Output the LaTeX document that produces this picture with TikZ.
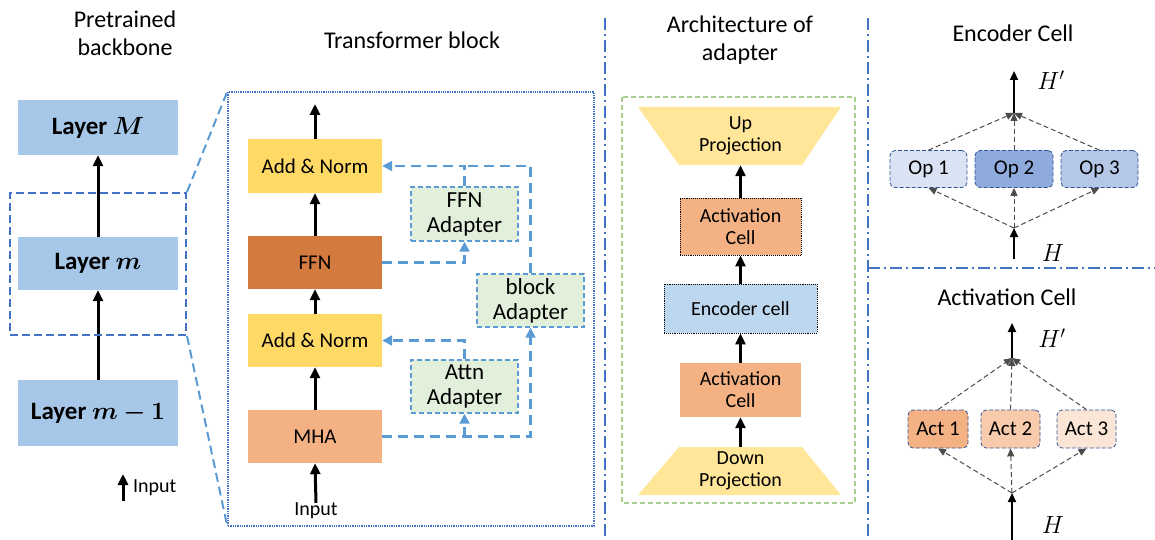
\documentclass[tikz,border=0pt]{standalone}
\usepackage{fontspec}
\setmainfont{Carlito}
\usepackage{bm}
\usetikzlibrary{arrows.meta,positioning}

\definecolor{layerblue}{RGB}{166,199,231}
\definecolor{normyellow}{RGB}{255,217,102}
\definecolor{ffnorange}{RGB}{211,123,63}
\definecolor{mhasalmon}{RGB}{244,177,131}
\definecolor{adaptgreen}{RGB}{226,239,218}
\definecolor{linkblue}{RGB}{91,155,213}
\definecolor{sepblue}{RGB}{68,114,196}
\definecolor{projyellow}{RGB}{255,230,153}
\definecolor{cellblue}{RGB}{189,215,238}
\definecolor{framegreen}{RGB}{169,209,142}
\definecolor{opone}{RGB}{218,227,243}
\definecolor{optwo}{RGB}{143,170,220}
\definecolor{opthree}{RGB}{180,199,231}
\definecolor{actone}{RGB}{244,177,131}
\definecolor{acttwo}{RGB}{248,203,173}
\definecolor{actthree}{RGB}{251,229,214}
\definecolor{opborder}{RGB}{47,85,151}

\tikzset{
  every node/.style={font=\fontsize{20}{22}\selectfont, align=center, inner sep=0pt},
  title/.style={font=\fontsize{24}{28}\selectfont},
  layer/.style={fill=layerblue, minimum width=160, font=\fontsize{25}{28}\selectfont\bfseries},
  block/.style={minimum width=134, minimum height=54, font=\fontsize{21}{23}\selectfont},
  adapter/.style={fill=adaptgreen, draw=linkblue, line width=1.4pt, dash pattern=on 5pt off 3pt, minimum width=107, minimum height=54, font=\fontsize{23}{25}\selectfont},
  cell/.style={draw=black, densely dotted, line width=0.9pt},
  choice/.style={draw=opborder, dash pattern=on 4pt off 2pt, line width=0.8pt, rounded corners=5pt, minimum height=37, font=\fontsize{21}{23}\selectfont},
  flow/.style={black, line width=3pt, -{Triangle[length=11pt,width=10pt]}},
  thinflow/.style={black, line width=2pt, -{Triangle[length=9pt,width=8pt]}},
  link/.style={linkblue, line width=2.2pt, dash pattern=on 10pt off 6pt, -{Triangle[length=10pt,width=10pt]}},
  zoomline/.style={linkblue, line width=2pt, dash pattern=on 9pt off 5pt},
  mix/.style={black!70, line width=1pt, dash pattern=on 5pt off 3pt, -{Triangle[length=8pt,width=7pt]}},
  sep/.style={sepblue, line width=2pt, dash pattern=on 12pt off 4pt on 2pt off 4pt},
  hlabel/.style={font=\fontsize{24}{26}\selectfont},
}

\begin{document}
\begin{tikzpicture}[x=1pt, y=-1pt]
  \useasboundingbox (0,0) rectangle (1155,540);

  % backbone
  \node[title] (bbtitle) at (125,33) {Pretrained\\backbone};
  \node[layer, minimum height=55] (layerM) at (98,127.5) {Layer $\bm{M}$};
  \node[layer, minimum height=53] (layerm) at (98,263.5) {Layer $\bm{m}$};
  \node[layer, minimum height=66] (layermm) at (98,413) {Layer $\bm{m-1}$};
  \draw[flow] (layermm.north) -- (layerm.south);
  \draw[flow] (layerm.north) -- (layerM.south);
  \node[draw=sepblue, line width=2pt, dash pattern=on 8pt off 4pt, minimum width=176, minimum height=142] (zoombox) at (98,264) {};
  \coordinate (inlow) at (123,501);
  \coordinate (inhigh) at (123,474);
  \draw[flow] (inlow) -- (inhigh);
  \node[anchor=west] (inlabel) at (133,488) {Input};

  % transformer block
  \node[title] (tbtitle) at (412,40) {Transformer block};
  \node[draw=sepblue, densely dotted, line width=1.3pt, minimum width=366, minimum height=434] (tblock) at (411,309) {};
  \draw[zoomline] (zoombox.north east) -- (tblock.north west);
  \draw[zoomline] (zoombox.south east) -- (tblock.south west);
  \node[block, fill=normyellow] (normtop) at (315,166) {Add \& Norm};
  \node[block, fill=ffnorange, minimum height=53] (ffn) at (315,262.5) {FFN};
  \node[block, fill=normyellow, minimum height=53] (normbot) at (315,340.5) {Add \& Norm};
  \node[block, fill=mhasalmon, minimum height=53] (mha) at (315,436.5) {MHA};
  \node (tinput) at (316,511) {Input};
  \coordinate (tout) at (315,104);
  \draw[flow] (tinput.north) -- (mha.south);
  \draw[flow] (mha.north) -- (normbot.south);
  \draw[flow] (normbot.north) -- (ffn.south);
  \draw[flow] (ffn.north) -- (normtop.south);
  \draw[flow] (normtop.north) -- (tout);
  \node[adapter] (ffnad) at (464.5,214) {FFN\\Adapter};
  \node[adapter, minimum height=53] (attnad) at (464.5,386.5) {Attn\\Adapter};
  \node[adapter, minimum height=53] (blockad) at (530.5,300.5) {block\\Adapter};
  \draw[link] (mha.east) -| (blockad.south);
  \draw[link] (attnad.south |- mha.east) -- (attnad.south);
  \draw[link] (attnad.north) |- (normbot.east);
  \draw[link] (ffn.east) -| (ffnad.south);
  \draw[link] (ffnad.north) |- (normtop.east);
  \draw[link, -] (blockad.north) |- (ffnad.north |- normtop.east);

  % separators
  \draw[sep] (605,18) -- (605,540);
  \draw[sep] (868,18) -- (868,540);
  \draw[sep] (868,268) -- (1155,268);

  % adapter architecture
  \node[title] (archtitle) at (740,40) {Architecture of\\adapter};
  \draw[framegreen, line width=1.3pt, dash pattern=on 5pt off 3pt] (622,97) rectangle (855,503);
  \fill[projyellow] (638,107) -- (841,107) -- (802,165) -- (679,165) -- cycle;
  \fill[projyellow] (679,447) -- (802,447) -- (841,495) -- (638,495) -- cycle;
  \node[minimum width=121, minimum height=58] (upproj) at (740.5,136) {Up\\Projection};
  \node[cell, fill=mhasalmon, minimum width=121, minimum height=57] (actup) at (740.5,226.5) {Activation\\Cell};
  \node[cell, fill=cellblue, minimum width=153, minimum height=49] (enccell) at (740.5,308.5) {Encoder cell};
  \node[fill=mhasalmon, minimum width=121, minimum height=54] (actdown) at (740.5,390) {Activation\\Cell};
  \node[minimum width=121, minimum height=48] (downproj) at (740.5,471) {Down\\Projection};
  \draw[flow] (downproj.north) -- (actdown.south);
  \draw[flow] (actdown.north) -- (enccell.south);
  \draw[flow] (enccell.north) -- (actup.south);
  \draw[flow] (actup.north) -- (upproj.south);

  % encoder cell
  \node[title] (enctitle) at (1013,33) {Encoder Cell};
  \node[choice, fill=opone, minimum width=77] (op1) at (928.5,169) {Op 1};
  \node[choice, fill=optwo, minimum width=78] (op2) at (1014,169) {Op 2};
  \node[choice, fill=opthree, minimum width=77] (op3) at (1099.5,169) {Op 3};
  \coordinate (encout) at (1014,71);
  \coordinate (encmerge) at (1014,113);
  \coordinate (encsplit) at (1014,228);
  \coordinate (encin) at (1014,259);
  \draw[thinflow] (encmerge) -- (encout);
  \draw[thinflow] (encin) -- (encsplit);
  \node[hlabel] (enchout) at (1051,80) {$H'$};
  \node[hlabel] (enchin) at (1053,253) {$H$};
  \foreach \o in {op1,op2,op3} {
    \draw[mix] (\o.north) -- (encmerge);
    \draw[mix] (encsplit) -- (\o.south);
  }

  % activation cell
  \node[title] (acttitle) at (1007,297) {Activation Cell};
  \node[choice, fill=actone, minimum width=60, minimum height=38] (act1) at (938,429) {Act 1};
  \node[choice, fill=acttwo, minimum width=59, minimum height=38] (act2) at (1010.5,429) {Act 2};
  \node[choice, fill=actthree, minimum width=59, minimum height=38] (act3) at (1086.5,429) {Act 3};
  \coordinate (actout) at (1012,323);
  \coordinate (actmerge) at (1012,358);
  \coordinate (actsplit) at (1012,493);
  \coordinate (actin) at (1012,540);
  \draw[thinflow] (actmerge) -- (actout);
  \draw[thinflow] (actin) -- (actsplit);
  \node[hlabel] (acthout) at (1052,338) {$H'$};
  \node[hlabel] (acthin) at (1053,525) {$H$};
  \foreach \a in {act1,act2,act3} {
    \draw[mix] (\a.north) -- (actmerge);
    \draw[mix] (actsplit) -- (\a.south);
  }
\end{tikzpicture}
\end{document}
